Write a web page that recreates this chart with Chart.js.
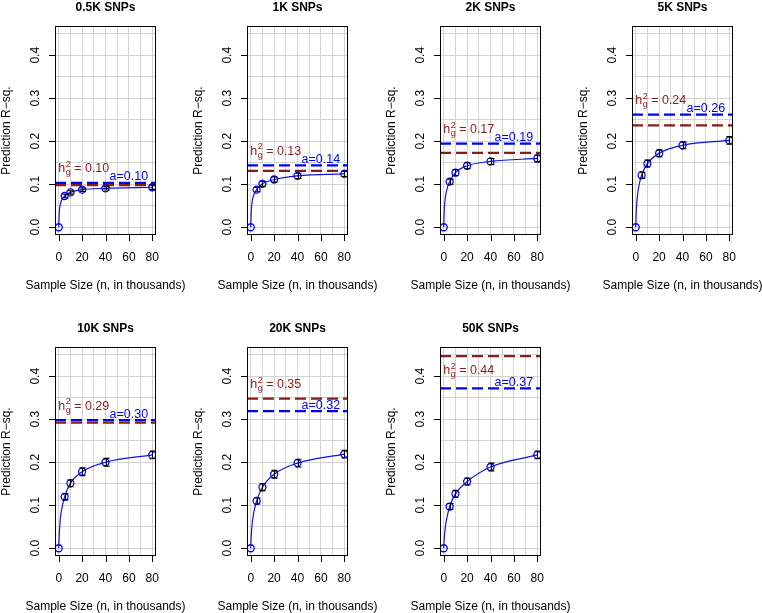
<!DOCTYPE html>
<html>
<head>
<meta charset="utf-8">
<script src="https://cdn.jsdelivr.net/npm/chart.js@4/dist/chart.umd.min.js"></script>
<style>
  html, body { margin: 0; padding: 0; background: #ffffff; }
  #wrap { position: relative; width: 762px; height: 613px; background: #ffffff; overflow: hidden; }
  #wrap canvas { position: absolute; }
</style>
</head>
<body>
<div id="wrap"></div>
<script>
// ---------------- data ----------------
const panelTitles = ["0.5K SNPs", "1K SNPs", "2K SNPs", "5K SNPs", "10K SNPs", "20K SNPs", "50K SNPs"];
const sampleSizes = [0, 5, 10, 20, 40, 80];            // n, in thousands

const r2_0_5K = [0, 0.0727, 0.081, 0.0875, 0.0906, 0.093];
const r2_1K   = [0, 0.0875, 0.101, 0.111, 0.1195, 0.124];
const r2_2K   = [0, 0.106, 0.127, 0.143, 0.153, 0.160];
const r2_5K   = [0, 0.121, 0.148, 0.172, 0.1906, 0.202];
const r2_10K  = [0, 0.1195, 0.151, 0.178, 0.200, 0.217];
const r2_20K  = [0, 0.110, 0.142, 0.172, 0.198, 0.219];
const r2_50K  = [0, 0.097, 0.1266, 0.155, 0.189, 0.217];

const se_0_5K = [0, 0.004, 0.004, 0.004, 0.004, 0.005];
const se_1K   = [0, 0.005, 0.006, 0.006, 0.006, 0.006];
const se_2K   = [0, 0.006, 0.007, 0.007, 0.007, 0.008];
const se_5K   = [0, 0.007, 0.008, 0.008, 0.008, 0.009];
const se_10K  = [0, 0.007, 0.008, 0.009, 0.009, 0.009];
const se_20K  = [0, 0.007, 0.008, 0.009, 0.009, 0.009];
const se_50K  = [0, 0.007, 0.008, 0.008, 0.009, 0.009];

// fitted curve, values
const curveN      = [0, 0.5, 1.5, 3, 5, 10, 20, 40, 80];
const fit_0_5K = [0, 0.036, 0.055, 0.066, 0.0727, 0.081, 0.0875, 0.0906, 0.093];
const fit_1K   = [0, 0.040, 0.064, 0.078, 0.0875, 0.101, 0.111, 0.1195, 0.124];
const fit_2K   = [0, 0.042, 0.072, 0.091, 0.106, 0.127, 0.143, 0.153, 0.160];
const fit_5K   = [0, 0.040, 0.075, 0.100, 0.121, 0.148, 0.172, 0.1906, 0.202];
const fit_10K  = [0, 0.035, 0.072, 0.097, 0.1195, 0.151, 0.178, 0.200, 0.217];
const fit_20K  = [0, 0.032, 0.064, 0.088, 0.110, 0.142, 0.172, 0.198, 0.219];
const fit_50K  = [0, 0.025, 0.052, 0.074, 0.097, 0.1266, 0.155, 0.189, 0.217];

const h2Values = [0.098, 0.131, 0.173, 0.237, 0.292, 0.348, 0.447];
const aValues  = [0.103, 0.144, 0.1945, 0.262, 0.298, 0.319, 0.372];
const h2Labels = ["0.10", "0.13", "0.17", "0.24", "0.29", "0.35", "0.44"];
const aLabels  = ["0.10", "0.14", "0.19", "0.26", "0.30", "0.32", "0.37"];

const xTickValues = [0, 20, 40, 60, 80];
const xTickLabels = ["0", "20", "40", "60", "80"];
const yTickValues = [0, 0.1, 0.2, 0.3, 0.4];
const yTickLabels = ["0.0", "0.1", "0.2", "0.3", "0.4"];

const xTitle = "Sample Size (n, in thousands)";
const yTitle = "Prediction R\u2212sq.";

const meanSeries  = [r2_0_5K, r2_1K, r2_2K, r2_5K, r2_10K, r2_20K, r2_50K];
const seSeries    = [se_0_5K, se_1K, se_2K, se_5K, se_10K, se_20K, se_50K];
const fitSeries   = [fit_0_5K, fit_1K, fit_2K, fit_5K, fit_10K, fit_20K, fit_50K];

// ---------------- style / layout ----------------
const BLUE = "#0000ff";
const CURVE = "#1414d8";
const RED = "#8b1a1a";
const FONT = "'Liberation Sans', Arial, Helvetica, sans-serif";
const X_MIN = -3.2, X_MAX = 83.2, Y_MIN = -0.018, Y_MAX = 0.468;
const colLefts = [0, 192, 385, 577];
const rowTops = [0, 321];
const rowHeights = [300, 292];
const CW = 185;
const PAD = { left: 55, right: 29, top: 26 };
const BOX_H = 209;

const rPlugin = {
  id: 'rdecor',
  afterDatasetsDraw(chart) {
    const ctx = chart.ctx;
    const o = chart.options.plugins.rdecor;
    const xs = chart.scales.x, ys = chart.scales.y;
    ctx.save();
    // error bars
    ctx.strokeStyle = "#000000";
    ctx.lineWidth = 1.1;
    o.means.forEach((m, i) => {
      const e = o.se[i];
      if (!e) return;
      const px = Math.round(xs.getPixelForValue(sampleSizes[i])) + 0.5;
      const y1 = ys.getPixelForValue(m - e), y2 = ys.getPixelForValue(m + e);
      ctx.beginPath();
      ctx.moveTo(px, y1); ctx.lineTo(px, y2);
      ctx.moveTo(px - 3, y1); ctx.lineTo(px + 3, y1);
      ctx.moveTo(px - 3, y2); ctx.lineTo(px + 3, y2);
      ctx.stroke();
    });
    ctx.restore();
  },
  afterDraw(chart) {
    const ctx = chart.ctx;
    const o = chart.options.plugins.rdecor;
    const xs = chart.scales.x, ys = chart.scales.y;
    const ca = chart.chartArea;
    ctx.save();
    // box
    ctx.strokeStyle = "#000000";
    ctx.lineWidth = 1;
    ctx.strokeRect(ca.left + 0.5, ca.top + 0.5, ca.right - ca.left - 1, ca.bottom - ca.top - 1);
    // tick marks
    ctx.beginPath();
    xTickValues.forEach(v => {
      const px = Math.round(xs.getPixelForValue(v)) + 0.5;
      ctx.moveTo(px, ca.bottom); ctx.lineTo(px, ca.bottom + 6);
    });
    yTickValues.forEach(v => {
      const py = Math.round(ys.getPixelForValue(v)) + 0.5;
      ctx.moveTo(ca.left, py); ctx.lineTo(ca.left - 6, py);
    });
    ctx.stroke();
    // tick labels
    ctx.fillStyle = "#000000";
    ctx.font = "12px " + FONT;
    ctx.textAlign = "center";
    ctx.textBaseline = "alphabetic";
    xTickValues.forEach((v, i) => {
      ctx.fillText(xTickLabels[i], xs.getPixelForValue(v), ca.bottom + 25.5);
    });
    yTickValues.forEach((v, i) => {
      ctx.save();
      ctx.translate(ca.left - 16.5, ys.getPixelForValue(v));
      ctx.rotate(-Math.PI / 2);
      ctx.fillText(yTickLabels[i], 0, 0);
      ctx.restore();
    });
    // axis titles
    const cx = (ca.left + ca.right) / 2, cy = (ca.top + ca.bottom) / 2;
    ctx.fillText(xTitle, cx, ca.bottom + 54);
    ctx.save();
    ctx.translate(ca.left - 45, cy);
    ctx.rotate(-Math.PI / 2);
    ctx.fillText(yTitle, 0, 0);
    ctx.restore();
    // panel title
    ctx.font = "bold 12px " + FONT;
    ctx.fillText(o.title, cx, ca.top - 15.5);

    // a label
    ctx.font = "12.5px " + FONT;
    ctx.fillStyle = BLUE;
    ctx.fillText("a=" + o.aLabel, xs.getPixelForValue(60), ys.getPixelForValue(o.a) - 2.5);

    // h2 label
    const top = Math.max(o.a, o.h2);
    let base = ys.getPixelForValue(top) - 10.5;
    if (base - 12 < ca.top) base = ys.getPixelForValue(o.h2) + 18;
    ctx.fillStyle = RED;
    ctx.textAlign = "left";
    let x0 = xs.getPixelForValue(0) - 0.5;
    ctx.font = "12.5px " + FONT;
    ctx.fillText("h", x0, base);
    x0 += ctx.measureText("h").width + 0.5;
    ctx.font = "9px " + FONT;
    ctx.fillText("2", x0, base - 5.5);
    ctx.fillText("g", x0, base + 3);
    x0 += Math.max(ctx.measureText("2").width, ctx.measureText("g").width);
    ctx.font = "12.5px " + FONT;
    ctx.fillText(" = " + o.h2Label, x0, base);
    ctx.restore();
  }
};

const wrap = document.getElementById('wrap');
panelTitles.forEach((title, p) => {
  const row = p < 4 ? 0 : 1, col = p % 4;
  const cv = document.createElement('canvas');
  const H = rowHeights[row];
  cv.width = CW; cv.height = H;
  cv.style.width = CW + "px"; cv.style.height = H + "px";
  cv.style.left = colLefts[col] + "px"; cv.style.top = rowTops[row] + "px";
  wrap.appendChild(cv);

  const means = meanSeries[p];
  const fit = fitSeries[p];
  new Chart(cv.getContext('2d'), {
    type: 'line',
    data: {
      datasets: [
        {
          label: 'h2',
          data: [{ x: X_MIN, y: h2Values[p] }, { x: X_MAX, y: h2Values[p] }],
          borderColor: RED, borderWidth: 2.3, borderDash: [11, 5],
          pointRadius: 0, fill: false, order: 4
        },
        {
          label: 'a',
          data: [{ x: X_MIN, y: aValues[p] }, { x: X_MAX, y: aValues[p] }],
          borderColor: BLUE, borderWidth: 2.3, borderDash: [11, 5],
          pointRadius: 0, fill: false, order: 3
        },
        {
          label: 'fit',
          data: curveN.map((n, i) => ({ x: n, y: fit[i] })),
          borderColor: CURVE, borderWidth: 1.2, cubicInterpolationMode: 'monotone',
          pointRadius: 0, fill: false, order: 2
        },
        {
          label: 'obs',
          data: sampleSizes.map((n, i) => ({ x: n, y: means[i] })),
          showLine: false, pointRadius: 3.5, pointBorderWidth: 1.3,
          pointBorderColor: BLUE, pointBackgroundColor: 'rgba(0,0,0,0)',
          pointStyle: 'circle', order: 1
        }
      ]
    },
    options: {
      responsive: false, animation: false, devicePixelRatio: 1,
      layout: { padding: { left: PAD.left, right: PAD.right, top: PAD.top, bottom: H - PAD.top - BOX_H } },
      plugins: {
        legend: { display: false }, tooltip: { enabled: false }, title: { display: false },
        rdecor: {
          title: title, means: means, se: seSeries[p],
          h2: h2Values[p], a: aValues[p], h2Label: h2Labels[p], aLabel: aLabels[p]
        }
      },
      scales: {
        x: {
          type: 'linear', min: X_MIN, max: X_MAX,
          ticks: { display: false, stepSize: 10, includeBounds: false },
          grid: { color: '#d3d3d3', lineWidth: 1, drawTicks: false },
          border: { display: false }
        },
        y: {
          type: 'linear', min: Y_MIN, max: Y_MAX,
          ticks: { display: false, stepSize: 0.05, includeBounds: false },
          grid: { color: '#d3d3d3', lineWidth: 1, drawTicks: false },
          border: { display: false }
        }
      }
    },
    plugins: [rPlugin]
  });
});
</script>
</body>
</html>
